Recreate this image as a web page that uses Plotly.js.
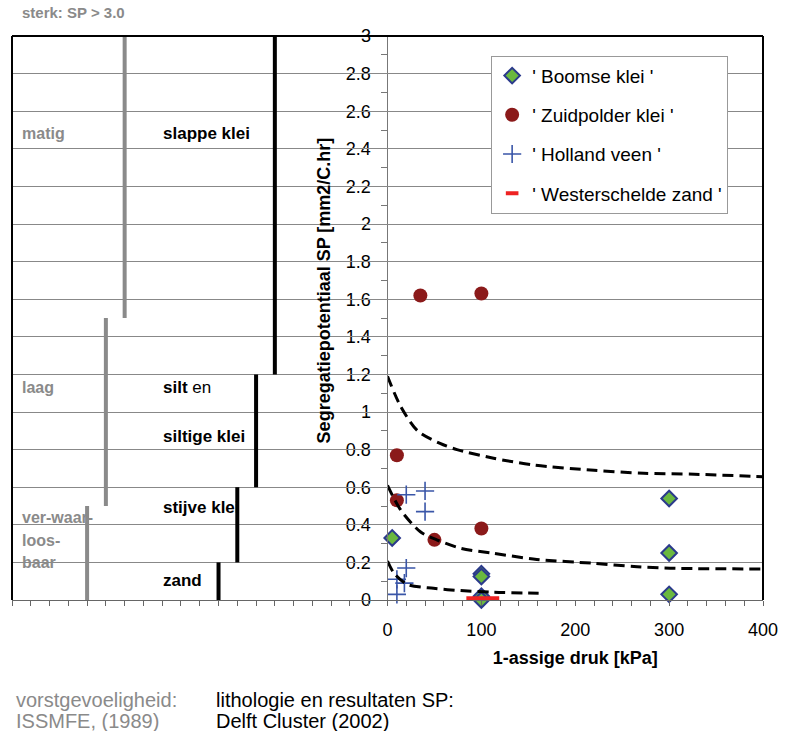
<!DOCTYPE html>
<html>
<head>
<meta charset="utf-8">
<script src="https://cdn.plot.ly/plotly-3.0.1.min.js"></script>
<style>html,body{margin:0;padding:0;background:#fff;}#chart{width:793px;height:731px;}</style>
</head>
<body>
<div id="chart"></div>
<script>
// ---- data ----
var boomseX = [5, 100, 100, 100, 100, 300, 300, 300];
var boomseY = [0.33, 0.14, 0.125, 0.02, 0.0, 0.54, 0.25, 0.03];

var zuidX = [35, 100, 10, 10, 50, 100];
var zuidY = [1.62, 1.63, 0.77, 0.53, 0.32, 0.38];

var hollandX = [20, 40, 40, 20, 10, 18, 10];
var hollandY = [0.56, 0.58, 0.47, 0.17, 0.11, 0.09, 0.03];

var westerX = [84, 119];
var westerY = [0.004, 0.004];

var curveTopX = [0, 14, 32, 56, 74, 113, 156, 220, 273, 327, 400];
var curveTopY = [1.19, 1.03, 0.90, 0.833, 0.80, 0.754, 0.718, 0.69, 0.674, 0.669, 0.656];
var curveMidX = [0, 14, 35, 53, 78, 113, 159, 220, 266, 301, 400];
var curveMidY = [0.61, 0.479, 0.363, 0.319, 0.275, 0.248, 0.216, 0.195, 0.177, 0.169, 0.165];
var curveLowX = [0, 7, 21, 49, 78, 113, 161];
var curveLowY = [0.207, 0.142, 0.083, 0.062, 0.05, 0.041, 0.036];

// frost susceptibility bars (gray) and lithology bars (black), drawn on the left panel axis
var frostX = [-280, -300, -320];
var frostLow = [1.5, 0.5, 0.0];
var frostHigh = [3.0, 1.5, 0.5];
var lithoX = [-120, -140, -160, -180];
var lithoLow = [1.2, 0.6, 0.2, 0.0];
var lithoHigh = [3.0, 1.2, 0.6, 0.2];

var xTickVals = [0, 100, 200, 300, 400];
var xTickText = ['0', '100', '200', '300', '400'];

var names = ["' Boomse klei '", "' Zuidpolder klei '", "' Holland veen '", "' Westerschelde zand '"];

// ---- build ----
var FONT = 'Liberation Sans, Arial, sans-serif';
var GRAY = '#8a8a8a';
var RED = '#ee2222';

function segTrace(xs, lo, hi, color) {
  var x = [], y = [];
  for (var i = 0; i < xs.length; i++) {
    x.push(xs[i], xs[i], null);
    y.push(lo[i], hi[i], null);
  }
  return {x: x, y: y, xaxis: 'x2', yaxis: 'y', mode: 'lines', type: 'scatter', showlegend: false,
          hoverinfo: 'skip', line: {color: color, width: 4}, cliponaxis: false};
}
function curve(x, y) {
  return {x: x, y: y, mode: 'lines', type: 'scatter', showlegend: false, hoverinfo: 'skip',
          line: {color: '#000', width: 3, dash: '11px,6px', shape: 'spline', smoothing: 0.8}};
}

var traces = [
  segTrace(frostX, frostLow, frostHigh, GRAY),
  segTrace(lithoX, lithoLow, lithoHigh, '#000'),
  {x: boomseX, y: boomseY, name: names[0], mode: 'markers', type: 'scatter', legendgroup: 'a', legendrank: 1,
   cliponaxis: false,
   marker: {symbol: 'diamond', size: 12, color: '#6ab83f', line: {color: '#2b3a8c', width: 2}}},
  {x: zuidX, y: zuidY, name: names[1], mode: 'markers', type: 'scatter', legendgroup: 'b', legendrank: 2,
   cliponaxis: false,
   marker: {symbol: 'circle', size: 14, color: '#8b1a1a', line: {width: 0}}},
  {x: hollandX, y: hollandY, name: names[2], mode: 'markers', type: 'scatter', legendgroup: 'c', legendrank: 3,
   cliponaxis: false,
   marker: {symbol: 'cross-thin', size: 13, color: '#3a56a8', line: {color: '#3a56a8', width: 1.6}}},
  {x: westerX, y: westerY, mode: 'lines', type: 'scatter', legendgroup: 'd', showlegend: false,
   cliponaxis: false, hoverinfo: 'skip', line: {color: RED, width: 6}},
  {x: [null], y: [null], name: names[3], mode: 'markers', type: 'scatter', legendgroup: 'd', legendrank: 4,
   marker: {symbol: 'line-ew', size: 9, color: RED, line: {color: RED, width: 4}}},
  curve(curveTopX, curveTopY),
  curve(curveMidX, curveMidY),
  curve(curveLowX, curveLowY)
];

function ann(text, x, y, color, size, bold, ref) {
  return {text: bold ? '<b>' + text + '</b>' : text, x: x, y: y,
          xref: ref ? 'paper' : 'x2', yref: ref ? 'paper' : 'y',
          xanchor: 'left', yanchor: 'middle', showarrow: false,
          font: {family: FONT, size: size, color: color}};
}

var annotations = [
  ann('sterk: SP &gt; 3.0', 0.010, 1.041, GRAY, 15, true, true),
  ann('matig', -391, 2.48, GRAY, 16, true),
  ann('laag', -391, 1.13, GRAY, 16, true),
  ann('ver-waar-', -391, 0.44, GRAY, 16, true),
  ann('loos-', -391, 0.315, GRAY, 16, true),
  ann('baar', -391, 0.197, GRAY, 16, true),
  ann('slappe klei', -241, 2.48, '#000', 17, true),
  ann('<b>silt</b> en', -241, 1.13, '#000', 17, false),
  ann('siltige klei', -241, 0.87, '#000', 17, true),
  ann('stijve klei', -241, 0.49, '#000', 17, true),
  ann('zand', -241, 0.106, '#000', 17, true),
  ann('vorstgevoeligheid:', 0.003, -0.177, GRAY, 20, false, true),
  ann('ISSMFE, (1989)', 0.003, -0.2145, GRAY, 20, false, true),
  ann('lithologie en resultaten SP:', 0.269, -0.177, '#000', 20, false, true),
  ann('Delft Cluster (2002)', 0.269, -0.2145, '#000', 20, false, true)
];

var shapes = [
  {type: 'line', xref: 'paper', yref: 'paper', x0: 0, x1: 0, y0: 0, y1: 1, line: {color: '#000', width: 2}, layer: 'above'},
  {type: 'line', xref: 'paper', yref: 'paper', x0: 1, x1: 1, y0: 0, y1: 1, line: {color: '#000', width: 2}, layer: 'above'},
  {type: 'line', xref: 'paper', yref: 'paper', x0: 0, x1: 1, y0: 1, y1: 1, line: {color: '#000', width: 2}, layer: 'above'}
];

var pad = '';
for (var k = 0; k < 11; k++) pad += '&nbsp;';

var layout = {
  width: 793, height: 731,
  margin: {l: 12, r: 30, t: 36, b: 131},
  paper_bgcolor: '#fff', plot_bgcolor: '#fff',
  font: {family: FONT, size: 17, color: '#000'},
  showlegend: true,
  legend: {x: 0.638, y: 0.965, xanchor: 'left', yanchor: 'top',
           bgcolor: '#fff', bordercolor: '#999', borderwidth: 1,
           font: {family: FONT, size: 19, color: '#000'},
           traceorder: 'grouped', tracegroupgap: 11.5, itemclick: false},
  xaxis: {domain: [0.5, 1], anchor: 'y', range: [0, 400], showgrid: false, zeroline: false,
          showline: true, linecolor: '#666', linewidth: 1,
          tickmode: 'array', tickvals: xTickVals, ticktext: xTickText,
          ticks: 'outside', ticklen: 5, tickcolor: '#666', ticklabelstandoff: 8,
          tickfont: {family: FONT, size: 18, color: '#000'},
          minor: {dtick: 20, tick0: 0, ticks: 'outside', ticklen: 5, tickcolor: '#666', showgrid: false},
          title: {text: '<b>1-assige druk [kPa]</b>', font: {family: FONT, size: 18, color: '#000'}, standoff: 12}},
  xaxis2: {domain: [0, 0.5], anchor: 'y', range: [-400, 0], showgrid: false, zeroline: false,
           showline: true, linecolor: '#666', linewidth: 1, showticklabels: false,
           tick0: 0, dtick: 20, ticks: 'outside', ticklen: 5, tickcolor: '#666'},
  yaxis: {domain: [0, 1], anchor: 'x', range: [0, 3],
          showgrid: true, gridcolor: '#888', gridwidth: 1, zeroline: false,
          showline: true, linecolor: '#777', linewidth: 1,
          dtick: 0.2, tick0: 0, ticks: 'outside', ticklen: 6, tickcolor: '#777', ticklabelstandoff: 6,
          tickfont: {family: FONT, size: 18, color: '#000'},
          minor: {dtick: 0.1, ticks: 'outside', ticklen: 6, tickcolor: '#777', showgrid: false},
          title: {text: pad + '<b>Segregatiepotentiaal SP [mm2/C.hr]</b>', font: {family: FONT, size: 18, color: '#000'}, standoff: 10}},
  annotations: annotations,
  shapes: shapes
};

Plotly.newPlot('chart', traces, layout, {displayModeBar: false, staticPlot: true});
</script>
</body>
</html>
